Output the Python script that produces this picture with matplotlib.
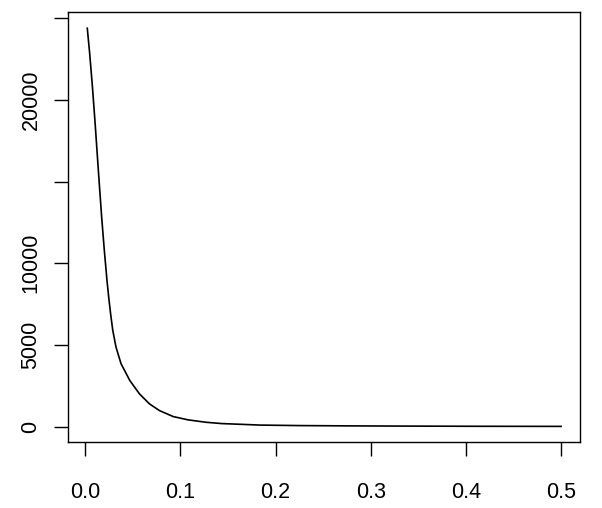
import numpy as np
import matplotlib
matplotlib.use('Agg')
import matplotlib.pyplot as plt

plt.rcParams['font.family'] = ['Liberation Sans', 'DejaVu Sans']
plt.rcParams['figure.dpi'] = 100

# curve values
freq = [0.0021, 0.0046, 0.0075, 0.0101, 0.0130, 0.0147, 0.0172, 0.0200,
        0.0228, 0.0246, 0.0266, 0.0289, 0.0323, 0.0376, 0.0468, 0.0569,
        0.0674, 0.0779, 0.0924, 0.1081, 0.1269, 0.1434, 0.1626, 0.1836,
        0.2257, 0.2783, 0.3308, 0.4148, 0.5000]
dens = [24387, 22854, 20806, 18764, 16311, 14882, 12834, 10792,
        8953, 7929, 6911, 5887, 4863, 3845, 2821, 2005,
        1392, 981, 613, 411, 264, 184, 141, 92,
        61, 43, 31, 18, 12]

xticks = [0.0, 0.1, 0.2, 0.3, 0.4, 0.5]
xlabels = ['0.0', '0.1', '0.2', '0.3', '0.4', '0.5']
yticks = [0, 5000, 10000, 15000, 20000, 25000]
ylabels = ['0', '5000', '10000', '', '20000', '']

fig = plt.figure(figsize=(6.02, 5.08))
ax = fig.add_axes([0.1135, 0.1293, 0.85, 0.8465])
ax.plot(freq, dens, color='black', lw=1.2)
ax.margins(0.04)

ax.set_xticks(xticks)
ax.set_xticklabels(xlabels)
ax.set_yticks(yticks)
ax.set_yticklabels(ylabels, rotation=90, va='center')
ax.tick_params(axis='both', labelsize=15.5, length=10.4, width=1.0, direction='out')
ax.tick_params(axis='x', pad=18)
ax.tick_params(axis='y', pad=9)
for s in ax.spines.values():
    s.set_linewidth(1.0)

fig.savefig('out.png', dpi=100)
